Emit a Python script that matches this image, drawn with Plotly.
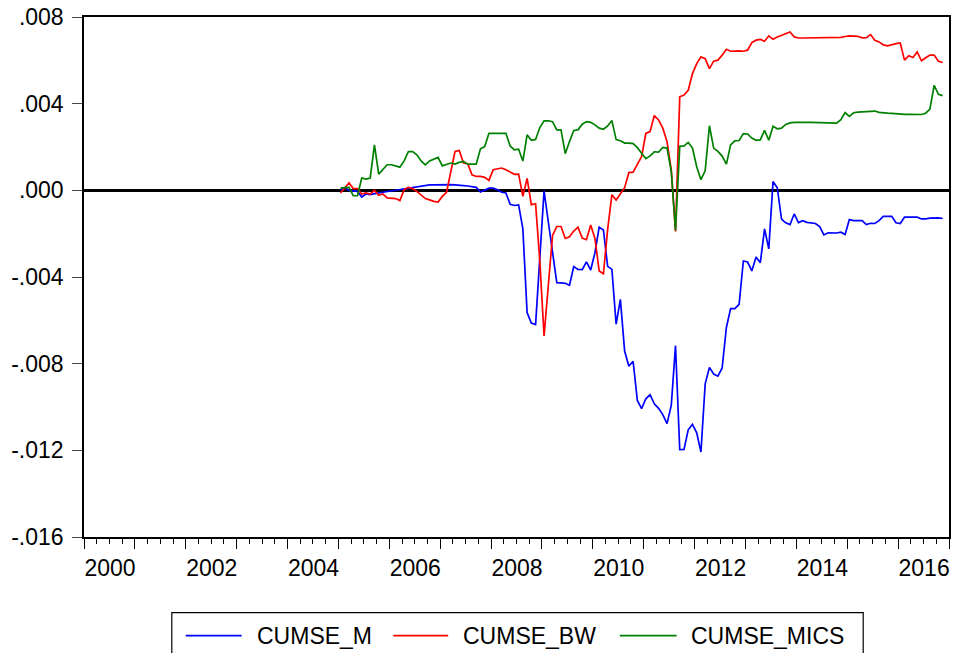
import plotly.graph_objects as go

# Monthly observations, 2005M01 .. 2016M11, in units of 1e-3
START_YEAR, START_MONTH = 2005, 1
SCALE = 1e-3

cumse_m = [
    0.03, 0.12, 0.00, -0.03, -0.05, -0.31, -0.17, -0.20, -0.15, -0.12, -0.09, -0.06,
    -0.02, 0.03, 0.06, 0.08, 0.11, 0.14, 0.18, 0.21, 0.23, 0.25, 0.25, 0.26,
    0.26, 0.26, 0.26, 0.25, 0.25, 0.22, 0.20, 0.18, 0.14, -0.08, 0.00, 0.10,
    0.10, 0.03, -0.09, -0.12, -0.64, -0.70, -0.67, -1.78, -5.64, -6.13, -6.20, -3.10,
    -0.03, -1.45, -2.85, -4.26, -4.27, -4.29, -4.38, -3.52, -3.65, -3.66, -3.30, -3.68,
    -2.88, -1.70, -1.83, -3.51, -3.65, -6.18, -5.03, -7.42, -8.12, -7.89, -9.70, -10.08,
    -9.62, -9.43, -9.85, -10.06, -10.35, -10.77, -9.93, -7.17, -11.97, -11.96, -11.05, -10.80,
    -11.19, -12.08, -8.93, -8.17, -8.48, -8.58, -8.20, -6.33, -5.46, -5.46, -5.26, -3.26,
    -3.31, -3.72, -3.08, -3.34, -1.78, -2.70, 0.41, 0.12, -1.33, -1.50, -1.58, -1.09,
    -1.49, -1.40, -1.48, -1.51, -1.53, -1.67, -2.06, -1.96, -1.98, -1.97, -1.93, -2.04,
    -1.35, -1.40, -1.40, -1.40, -1.58, -1.52, -1.53, -1.40, -1.20, -1.20, -1.20, -1.50,
    -1.53, -1.24, -1.23, -1.23, -1.24, -1.32, -1.32, -1.28, -1.27, -1.27, -1.30,
]

cumse_bw = [
    -0.12, 0.10, 0.34, 0.08, 0.08, -0.17, -0.12, -0.17, 0.00, -0.23, -0.17, -0.35,
    -0.35, -0.38, -0.47, 0.03, 0.14, 0.08, -0.05, -0.20, -0.38, -0.44, -0.51, -0.54,
    -0.28, -0.09, 0.87, 1.79, 1.84, 1.26, 1.23, 0.72, 0.64, 0.64, 0.60, 0.46,
    0.95, 0.98, 1.03, 0.95, 0.84, 0.74, 0.75, -0.28, 0.55, -0.66, -0.62, -3.26,
    -6.72, -4.20, -2.08, -1.67, -1.67, -2.22, -2.14, -1.88, -1.70, -2.20, -2.28, -1.60,
    -2.22, -3.72, -3.85, -1.80, -0.20, -0.45, -0.15, 0.12, 0.82, 0.84, 1.20, 1.55,
    2.63, 2.71, 3.45, 3.25, 2.87, 2.25, 0.95, -1.90, 4.32, 4.40, 4.62, 5.39,
    5.85, 6.16, 6.08, 5.62, 5.96, 6.01, 6.24, 6.51, 6.42, 6.44, 6.44, 6.42,
    6.47, 6.82, 6.93, 6.97, 6.88, 7.13, 6.97, 7.08, 7.16, 7.26, 7.31, 7.08,
    7.03, 7.03, 7.03, 7.03, 7.03, 7.03, 7.03, 7.03, 7.04, 7.04, 7.06, 7.10,
    7.13, 7.12, 7.11, 7.04, 7.05, 7.19, 6.93, 6.85, 6.71, 6.67, 6.73, 6.77,
    6.80, 6.01, 6.21, 6.13, 6.39, 5.98, 6.12, 6.24, 6.24, 5.96, 5.90,
]

cumse_mics = [
    0.11, 0.13, 0.14, -0.25, -0.25, 0.57, 0.52, 0.57, 2.10, 0.75, 0.95, 1.18,
    1.18, 1.13, 1.07, 1.36, 1.79, 1.79, 1.64, 1.36, 1.18, 1.36, 1.44, 1.52,
    1.13, 1.18, 1.26, 1.21, 1.29, 1.33, 1.21, 1.21, 1.21, 1.92, 2.02, 2.63,
    2.63, 2.63, 2.63, 2.63, 2.05, 1.87, 1.90, 1.35, 2.56, 2.31, 2.35, 2.90,
    3.21, 3.21, 3.17, 2.79, 2.79, 1.69, 2.25, 2.76, 2.79, 3.05, 3.17, 3.14,
    3.02, 2.87, 2.82, 2.97, 3.22, 2.34, 2.29, 2.18, 2.18, 2.16, 1.97, 1.73,
    1.46, 1.59, 1.78, 1.76, 1.98, 1.95, 0.87, -1.85, 2.03, 2.05, 2.21, 1.95,
    1.09, 0.49, 0.91, 2.98, 1.95, 1.80, 1.58, 1.21, 2.10, 2.28, 2.30, 2.62,
    2.60, 2.41, 2.31, 2.33, 2.77, 2.31, 2.96, 2.84, 2.87, 3.04, 3.11, 3.14,
    3.15, 3.15, 3.14, 3.14, 3.13, 3.13, 3.12, 3.12, 3.12, 3.10, 3.26, 3.59,
    3.41, 3.58, 3.61, 3.62, 3.63, 3.64, 3.66, 3.60, 3.57, 3.56, 3.55, 3.53,
    3.52, 3.51, 3.51, 3.51, 3.50, 3.50, 3.56, 3.75, 4.85, 4.43, 4.37,
]

series_names = ["CUMSE_M", "CUMSE_BW", "CUMSE_MICS"]
series_colors = ["#0000FF", "#FF0000", "#008000"]

y_tick_vals = [-0.016, -0.012, -0.008, -0.004, 0.0, 0.004, 0.008]
y_tick_text = ["-.016", "-.012", "-.008", "-.004", ".000", ".004", ".008"]
year_labels = ["2000", "2002", "2004", "2006", "2008", "2010", "2012", "2014", "2016"]

X_MIN, X_MAX = 2000, 2017
FONT = "Arial, Liberation Sans, sans-serif"

# monthly observations are plotted at the middle of each month
n = len(cumse_m)
x_time = [START_YEAR + (START_MONTH - 1 + i + 0.5) / 12.0 for i in range(n)]

fig = go.Figure()
for name, vals, col in zip(series_names, [cumse_m, cumse_bw, cumse_mics], series_colors):
    fig.add_trace(go.Scatter(
        x=x_time, y=[v * SCALE for v in vals], mode="lines", name=name,
        line=dict(color=col, width=1.7), showlegend=False,
    ))

W, H = 955, 653
ML, MR, MT, MB = 84, 4, 15, 116
PW, PH = W - ML - MR, H - MT - MB
YEAR_PX = PW / (X_MAX - X_MIN)


def px(xp):
    return (xp - ML) / PW


def py(yp):
    return (H - MB - yp) / PH


# yearly major ticks; every second year carries a label centred on its year
year_ticks = list(range(X_MIN, X_MAX + 1))
year_text = [str(y) if str(y) in year_labels else "" for y in year_ticks]
quarters = [X_MIN + q / 4 for q in range((X_MAX - X_MIN) * 4 + 1) if q % 4]

fig.update_layout(
    width=W, height=H,
    margin=dict(l=ML, r=MR, t=MT, b=MB, pad=0),
    paper_bgcolor="white", plot_bgcolor="white",
    font=dict(family=FONT, size=23, color="black"),
    xaxis=dict(
        range=[X_MIN, X_MAX], showgrid=False, zeroline=False,
        showline=True, linecolor="black", linewidth=1.5, mirror=True,
        tickmode="array", tickvals=year_ticks, ticktext=year_text,
        ticks="outside", ticklen=10, tickwidth=1.3, tickcolor="black",
        tickfont=dict(size=23), ticklabelshift=int(round(YEAR_PX / 2)),
        ticklabelstandoff=0,
        minor=dict(tickmode="array", tickvals=quarters, ticks="outside",
                   ticklen=5, tickwidth=1, tickcolor="black", showgrid=False),
    ),
    yaxis=dict(
        range=[-0.016, 0.008], showgrid=False,
        showline=True, linecolor="black", linewidth=1.5, mirror=True,
        tickmode="array", tickvals=y_tick_vals, ticktext=y_tick_text,
        ticks="outside", ticklen=10, tickwidth=1.3, tickcolor="#444",
        tickfont=dict(size=23), ticklabelstandoff=4,
        zeroline=True, zerolinecolor="black", zerolinewidth=3,
    ),
)

# legend box below the plot
shapes = [dict(type="rect", xref="paper", yref="paper",
               x0=px(172), x1=px(865), y0=py(668), y1=py(613),
               line=dict(color="black", width=1.2), fillcolor="white")]
annotations = []
legend_y = 636
for name, col, (lx0, lx1, tx) in zip(series_names, series_colors,
                                     [(186, 242, 255), (394, 449, 462), (621, 678, 690)]):
    shapes.append(dict(type="line", xref="paper", yref="paper",
                       x0=px(lx0), x1=px(lx1), y0=py(legend_y), y1=py(legend_y),
                       line=dict(color=col, width=1.6)))
    annotations.append(dict(xref="paper", yref="paper", x=px(tx), y=py(legend_y),
                            text=name, showarrow=False, xanchor="left", yanchor="middle",
                            font=dict(size=23, family=FONT, color="black")))
fig.update_layout(shapes=shapes, annotations=annotations)

fig.write_html("out.html")
